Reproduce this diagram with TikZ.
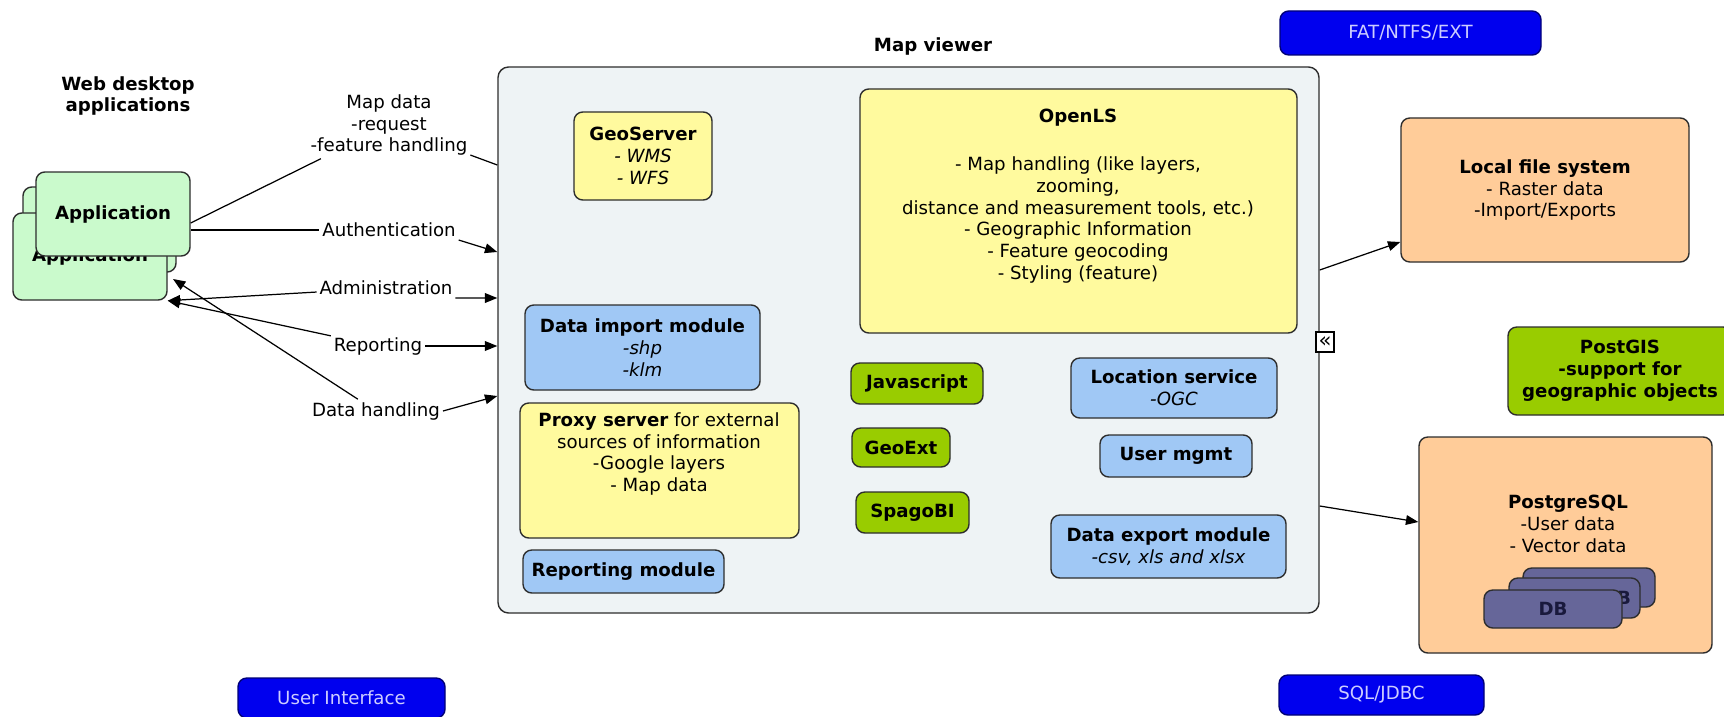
\documentclass[tikz,border=0pt]{standalone}
\usepackage{fontspec}
\setmainfont{DejaVu Sans}
\usepackage{xcolor}
\usepackage{tikz}
\usetikzlibrary{arrows.meta}

\definecolor{mvfill}{RGB}{238,243,245}
\definecolor{edge}{RGB}{45,45,45}
\definecolor{yfill}{RGB}{255,250,158}
\definecolor{lfill}{RGB}{160,200,245}
\definecolor{gfill}{RGB}{153,204,0}
\definecolor{afill}{RGB}{202,250,204}
\definecolor{ofill}{RGB}{255,204,153}
\definecolor{dbfill}{RGB}{102,102,153}
\definecolor{dbtext}{RGB}{25,25,60}
\definecolor{tagfill}{RGB}{0,0,238}
\definecolor{tagtext}{RGB}{205,205,255}

\begin{document}
\begin{tikzpicture}[x=0.567pt,y=-0.567pt,
    sz/.style 2 args={minimum width=#1*0.567pt,minimum height=#2*0.567pt},
    box/.style={draw=edge,line width=0.8pt,rounded corners=5pt,align=center,inner sep=2pt},
    ybox/.style={box,fill=yfill},
    lbox/.style={box,fill=lfill},
    gbox/.style={box,fill=gfill},
    obox/.style={box,fill=ofill},
    appbox/.style={box,fill=afill},
    dbbox/.style={box,fill=dbfill,text=dbtext,font=\bfseries},
    tag/.style={box,fill=tagfill,draw=tagfill!50!black,text=tagtext},
    lbl/.style={align=center,inner sep=1.5pt},
    con/.style={line width=0.7pt},
    arr/.style={con,-{Triangle[length=7pt,width=5.5pt]}}]
  \fontsize{10.3pt}{12.4pt}\selectfont
  \fill[white] (0,0) rectangle (1724,717);
  \useasboundingbox (0,0) rectangle (1724,717);

  % tags
  \node[tag,sz={261}{44}] (fat) at (1410.5,33) {FAT/NTFS/EXT};
  \node[tag,sz={207}{40}] (ui) at (341.5,698) {User Interface};
  \node[tag,sz={205}{40}] (sql) at (1381.5,695) {SQL/JDBC};

  % web desktop applications
  \node[lbl] (lweb) at (128,96) {\textbf{Web desktop}\\\textbf{applications}};
  \node[appbox,sz={153}{85}] (appback) at (99.5,229.5) {};
  \node[appbox,sz={154}{87}] (applow) at (90,256.5) {\textbf{Application}};
  \node[appbox,sz={154}{84}] (appfront) at (113,214) {\textbf{Application}};

  % map viewer
  \node (mvtitle) at (933,46) {\textbf{Map viewer}};
  \node[box,fill=mvfill,rounded corners=6pt,sz={821}{546}] (mv) at (908.5,340) {};

  \node[ybox,sz={138}{88}] (geoserver) at (643,156) {\textbf{GeoServer}\\\textit{- WMS}\\\textit{- WFS}};
  \node[ybox,sz={437}{244}] (openls) at (1078.5,211) {};
  \node[lbl] (openlstext) at (1078,196) {\textbf{OpenLS}\\[15pt]- Map handling (like layers,\\zooming,\\distance and measurement tools, etc.)\\- Geographic Information\\- Feature geocoding\\- Styling (feature)};
  \node[lbox,sz={235}{85}] (dataimport) at (642.5,347.5) {\textbf{Data import module}\\\textit{-shp}\\\textit{-klm}};
  \node[ybox,sz={279}{135}] (proxy) at (659.5,470.5) {};
  \node[lbl] (proxytext) at (659,454) {\textbf{Proxy server} for external\\sources of information\\-Google layers\\- Map data};
  \node[lbox,sz={201}{43}] (reporting) at (623.5,571.5) {\textbf{Reporting module}};
  \node[gbox,sz={132}{41}] (javascript) at (917,383.5) {\textbf{Javascript}};
  \node[gbox,sz={98}{39}] (geoext) at (901,447.5) {\textbf{GeoExt}};
  \node[gbox,sz={113}{41}] (spagobi) at (912.5,512.5) {\textbf{SpagoBI}};
  \node[lbox,sz={206}{60}] (locservice) at (1174,388) {\textbf{Location service}\\\textit{-OGC}};
  \node[lbox,sz={152}{42}] (usermgmt) at (1176,456) {\textbf{User mgmt}};
  \node[lbox,sz={235}{63}] (dataexport) at (1168.5,546.5) {\textbf{Data export module}\\\textit{-csv, xls and xlsx}};
  \node[draw=black,fill=white,line width=0.6pt,inner sep=0pt,sz={18}{20},font=\fontsize{12pt}{12pt}\selectfont] (fold) at (1325,342) {«};

  % storage
  \node[obox,sz={288}{144}] (localfs) at (1545,190) {\textbf{Local file system}\\- Raster data\\-Import/Exports};
  \node[gbox,sz={224}{88}] (postgis) at (1620,371) {\textbf{PostGIS}\\\textbf{-support for}\\\textbf{geographic objects}};
  \node[obox,sz={293}{216}] (pg) at (1565.5,545) {};
  \node[lbl] (pgtext) at (1568,524) {\textbf{PostgreSQL}\\-User data\\- Vector data};
  \node[dbbox,sz={132}{39}] (db3) at (1589,587.5) {};
  \node[dbbox,sz={131}{40},text width=113*0.567pt,inner xsep=9*0.567pt,align=right] (db2) at (1574.5,598) {DB};
  \node[dbbox,sz={138}{38}] (db1) at (1553,609) {DB};

  % connectors on the left
  \node[lbl] (lmap) at (389,125) {Map data\\-request\\-feature handling};
  \node[lbl] (lauth) at (389,230) {Authentication};
  \node[lbl] (ladm) at (386,288) {Administration};
  \node[lbl] (lrep) at (378,346) {Reporting};
  \node[lbl] (ldh) at (376,411) {Data handling};
  \coordinate (dhend) at (173,279);

  \draw[con] (appfront.east |- 0,223) -- (lmap) -- (mv.west |- 0,165);
  \draw[con] (appfront.east |- lauth) -- (lauth);
  \draw[arr] (lauth.south east) -- (mv.west |- 0,252);
  \draw[arr] (ladm) -- (applow.south east);
  \draw[arr] (ladm.south east) -- (mv.west |- 0,298);
  \draw[arr] (lrep) -- (applow.south east);
  \draw[arr] (lrep.east) -- (mv.west |- lrep.east);
  \draw[arr] (ldh) -- (dhend);
  \draw[arr] (ldh.east) -- (mv.west |- 0,396);

  % connectors on the right
  \draw[arr] (mv.east |- 0,270) -- (localfs.west |- 0,242);
  \draw[arr] (mv.east |- 0,506) -- (pg.west |- 0,522);
\end{tikzpicture}
\end{document}
